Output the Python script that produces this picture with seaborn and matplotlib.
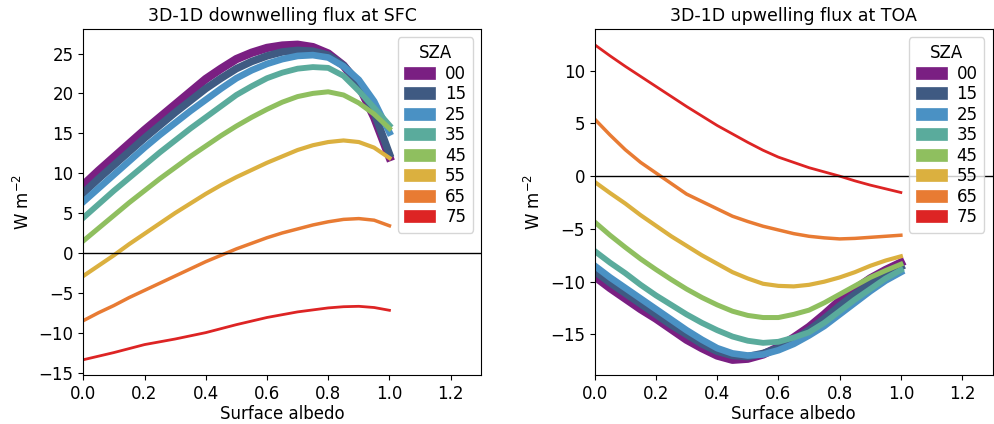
import numpy as np
import pandas as pd
import matplotlib
matplotlib.use('Agg')
import matplotlib.pyplot as plt
import seaborn as sns
from matplotlib.patches import Patch

sza = ['00', '15', '25', '35', '45', '55', '65', '75']
colors = ['#7a1f82', '#3f5a82', '#4a91c4', '#5aab9c', '#8fbf5f', '#dbb03f', '#e87b33', '#dd2424']
widths = [6.0, 5.4, 4.8, 4.2, 3.6, 3.0, 2.5, 2.0]

albedo = [0.0, 0.05, 0.1, 0.15, 0.2, 0.25, 0.3, 0.35, 0.4, 0.45, 0.5,
          0.55, 0.6, 0.65, 0.7, 0.75, 0.8, 0.85, 0.9, 0.95, 1.0]

# downwelling flux at surface, 3D-1D
sfc_00 = [8.5, 10.3, 12.0, 13.7, 15.4, 17.0, 18.6, 20.2, 21.8, 23.1, 24.3, 25.1, 25.7, 26.0, 26.1, 25.8, 25.0, 23.5, 21.0, 17.0, 12.0]
sfc_15 = [7.5, 9.3, 11.0, 12.7, 14.4, 16.0, 17.6, 19.1, 20.6, 21.9, 23.1, 24.0, 24.7, 25.2, 25.4, 25.3, 24.8, 23.5, 21.4, 17.6, 12.4]
sfc_25 = [6.4, 8.1, 9.8, 11.5, 13.2, 14.8, 16.3, 17.8, 19.2, 20.6, 21.9, 22.9, 23.7, 24.3, 24.7, 24.8, 24.5, 23.4, 21.7, 19.0, 15.1]
sfc_35 = [4.4, 6.1, 7.8, 9.4, 11.0, 12.6, 14.1, 15.6, 17.0, 18.4, 19.8, 20.9, 21.9, 22.6, 23.1, 23.3, 23.2, 22.2, 20.3, 18.2, 16.0]
sfc_45 = [1.5, 3.1, 4.7, 6.3, 7.8, 9.3, 10.7, 12.1, 13.4, 14.7, 15.9, 17.0, 18.0, 18.9, 19.6, 20.0, 20.2, 19.8, 18.8, 17.4, 15.6]
sfc_55 = [-2.9, -1.6, -0.3, 1.1, 2.4, 3.7, 5.0, 6.2, 7.4, 8.5, 9.5, 10.4, 11.3, 12.1, 12.9, 13.5, 13.9, 14.1, 13.9, 13.2, 11.9]
sfc_65 = [-8.5, -7.5, -6.6, -5.6, -4.7, -3.8, -2.9, -2.0, -1.1, -0.3, 0.5, 1.2, 1.9, 2.5, 3.0, 3.5, 3.9, 4.2, 4.3, 4.1, 3.4]
sfc_75 = [-13.4, -12.95, -12.5, -12.0, -11.5, -11.15, -10.8, -10.4, -10.0, -9.5, -9.0, -8.55, -8.1, -7.75, -7.4, -7.15, -6.9, -6.75, -6.7, -6.85, -7.2]

# upwelling flux at TOA, 3D-1D
toa_00 = [-9.5, -10.6, -11.6, -12.6, -13.5, -14.5, -15.5, -16.3, -17.0, -17.4, -17.3, -16.9, -16.2, -15.3, -14.3, -13.1, -11.8, -10.7, -9.7, -8.9, -8.2]
toa_15 = [-9.0, -10.1, -11.1, -12.1, -13.1, -14.1, -15.0, -15.9, -16.6, -17.0, -17.1, -16.8, -16.3, -15.5, -14.6, -13.5, -12.3, -11.2, -10.2, -9.4, -8.6]
toa_25 = [-8.5, -9.6, -10.6, -11.6, -12.6, -13.6, -14.6, -15.5, -16.3, -16.8, -17.0, -16.9, -16.5, -15.9, -15.1, -14.2, -13.1, -12.0, -10.9, -9.9, -9.1]
toa_35 = [-7.1, -8.2, -9.2, -10.3, -11.3, -12.2, -13.1, -13.9, -14.6, -15.2, -15.6, -15.8, -15.7, -15.3, -14.8, -13.9, -12.8, -11.7, -10.7, -9.7, -8.9]
toa_45 = [-4.35, -5.6, -6.75, -7.85, -8.85, -9.8, -10.7, -11.5, -12.2, -12.8, -13.2, -13.4, -13.4, -13.1, -12.7, -12.0, -11.2, -10.4, -9.6, -8.95, -8.35]
toa_55 = [-0.55, -1.6, -2.6, -3.7, -4.7, -5.7, -6.6, -7.5, -8.3, -9.1, -9.7, -10.2, -10.4, -10.45, -10.3, -10.0, -9.6, -9.1, -8.5, -8.0, -7.6]
toa_65 = [5.4, 3.9, 2.5, 1.3, 0.3, -0.7, -1.7, -2.4, -3.1, -3.8, -4.3, -4.75, -5.1, -5.45, -5.7, -5.85, -5.95, -5.9, -5.8, -5.7, -5.6]
toa_75 = [12.45, 11.4, 10.4, 9.45, 8.5, 7.55, 6.6, 5.7, 4.8, 4.0, 3.2, 2.45, 1.8, 1.3, 0.8, 0.4, 0.0, -0.45, -0.85, -1.2, -1.55]


def long_df(series):
    rows = []
    for s, vals in zip(sza, series):
        for a, v in zip(albedo, vals):
            rows.append((a, v, s))
    return pd.DataFrame(rows, columns=['albedo', 'flux', 'SZA'])


sfc = long_df([sfc_00, sfc_15, sfc_25, sfc_35, sfc_45, sfc_55, sfc_65, sfc_75])
toa = long_df([toa_00, toa_15, toa_25, toa_35, toa_45, toa_55, toa_65, toa_75])

plt.rcParams['font.size'] = 12

fig = plt.figure(figsize=(9.95, 4.24), dpi=100)
ax1 = fig.add_axes([0.0837, 0.1144, 0.400, 0.8172])
ax2 = fig.add_axes([0.5977, 0.1144, 0.400, 0.8172])

pal = dict(zip(sza, colors))
sz = dict(zip(sza, widths))

for ax, df, title in [(ax1, sfc, '3D-1D downwelling flux at SFC'),
                      (ax2, toa, '3D-1D upwelling flux at TOA')]:
    sns.lineplot(data=df, x='albedo', y='flux', hue='SZA', size='SZA',
                 hue_order=sza, size_order=sza, palette=pal, sizes=sz,
                 legend=False, ax=ax)
    ax.axhline(0, color='k', lw=1)
    ax.set_xlim(0, 1.3)
    ax.set_title(title, fontsize=12.5)
    ax.set_xlabel('Surface albedo', fontsize=12, labelpad=1)
    ax.set_ylabel('W m$^{-2}$', fontsize=12)
    ax.tick_params(labelsize=12)
    handles = [Patch(facecolor=c, edgecolor=c, lw=0.5) for c in colors]
    ax.legend(handles, sza, title='SZA', loc='upper right', fontsize=12,
              title_fontsize=12, labelspacing=0.15, handlelength=1.85,
              handletextpad=0.6)

fig.savefig('out.png', dpi=100)
